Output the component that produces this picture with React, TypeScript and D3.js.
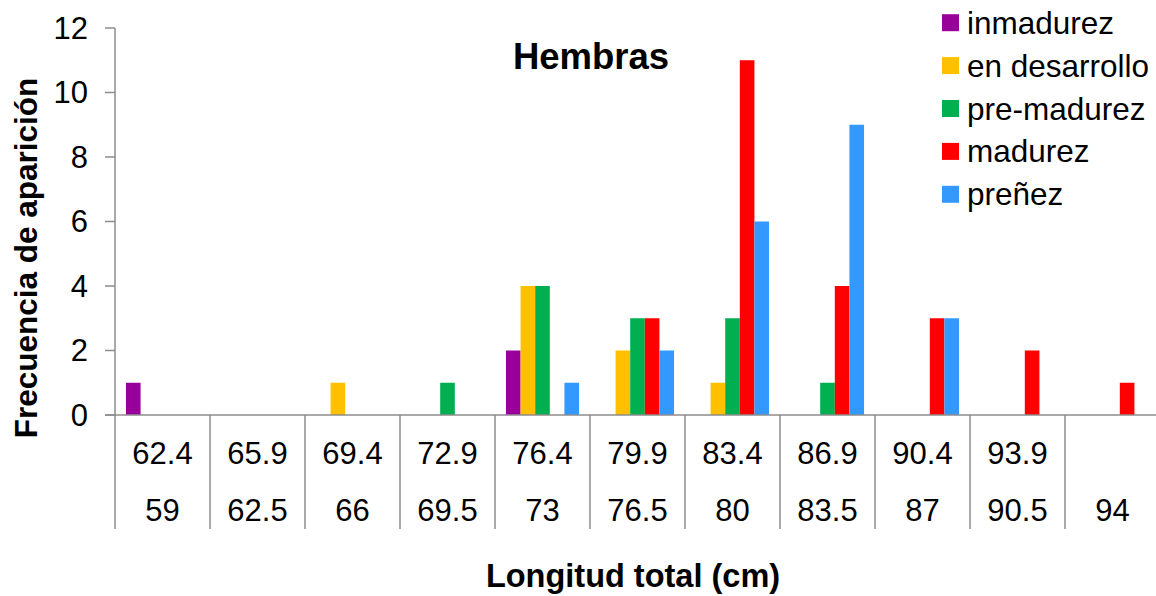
import React from "react";
import * as d3 from "d3";

const topLabels = ["62.4", "65.9", "69.4", "72.9", "76.4", "79.9", "83.4", "86.9", "90.4", "93.9", ""];
const bottomLabels = ["59", "62.5", "66", "69.5", "73", "76.5", "80", "83.5", "87", "90.5", "94"];
const seriesNames = ["inmadurez", "en desarrollo", "pre-madurez", "madurez", "preñez"];
const seriesColors = ["#990099", "#FFC000", "#00B050", "#FF0000", "#3399FF"];
const inmadurez = [1, 0, 0, 0, 2, 0, 0, 0, 0, 0, 0];
const enDesarrollo = [0, 0, 1, 0, 4, 2, 1, 0, 0, 0, 0];
const preMadurez = [0, 0, 0, 1, 4, 3, 3, 1, 0, 0, 0];
const madurez = [0, 0, 0, 0, 0, 3, 11, 4, 3, 2, 1];
const prenez = [0, 0, 0, 0, 1, 2, 6, 9, 3, 0, 0];
const yTicks = [0, 2, 4, 6, 8, 10, 12];

const seriesValues = [inmadurez, enDesarrollo, preMadurez, madurez, prenez];

const W = 1156;
const H = 596;
const FONT = "'Liberation Sans', Arial, sans-serif";
const AXIS = "#8c8c8c";

export default function App() {
  const left = 115;
  const right = 1160;
  const top = 28;
  const bottom = 415;
  const sepBottom = 529;

  const idx = d3.range(topLabels.length).map(String);
  const x0 = d3.scaleBand<string>().domain(idx).range([left, right]).paddingInner(0).paddingOuter(0);
  const x1 = d3
    .scaleBand<string>()
    .domain(seriesNames)
    .range([0, x0.bandwidth()])
    .paddingInner(0)
    .paddingOuter(0.75);
  const y = d3.scaleLinear().domain([0, 12]).range([bottom, top]);

  const bars: React.ReactNode[] = [];
  seriesValues.forEach((vals, si) => {
    vals.forEach((v, ci) => {
      if (v <= 0) return;
      const bx = (x0(String(ci)) as number) + (x1(seriesNames[si]) as number);
      bars.push(
        <rect
          key={`b-${si}-${ci}`}
          x={bx}
          y={y(v)}
          width={x1.bandwidth()}
          height={y(0) - y(v)}
          fill={seriesColors[si]}
        />
      );
    });
  });

  const boundaries = d3.range(topLabels.length + 1).map((i) =>
    i < topLabels.length ? (x0(String(i)) as number) : right
  );

  return (
    <svg width={W} height={H} style={{ position: "absolute", left: 0, top: 0, background: "#fff" }} fontFamily={FONT}>
      <rect x={0} y={0} width={W} height={H} fill="#fff" />
      {bars}
      {/* y axis */}
      <line x1={left} y1={top} x2={left} y2={bottom} stroke={AXIS} strokeWidth={1.5} />
      {yTicks.map((t) => (
        <g key={`yt-${t}`}>
          <line x1={left - 10} y1={y(t)} x2={left} y2={y(t)} stroke={AXIS} strokeWidth={1.5} />
          <text x={88} y={y(t)} textAnchor="end" dominantBaseline="central" fontSize={31} fill="#000">
            {t}
          </text>
        </g>
      ))}
      {/* x axis */}
      <line x1={left - 10} y1={bottom} x2={right} y2={bottom} stroke={AXIS} strokeWidth={1.5} />
      {boundaries.map((bx, i) => (
        <line key={`sep-${i}`} x1={bx} y1={bottom} x2={bx} y2={sepBottom} stroke={AXIS} strokeWidth={1.5} />
      ))}
      {idx.map((k, i) => {
        const cx = (x0(k) as number) + x0.bandwidth() / 2;
        return (
          <g key={`xl-${k}`}>
            <text x={cx} y={464} textAnchor="middle" fontSize={31} fill="#000">
              {topLabels[i]}
            </text>
            <text x={cx} y={521} textAnchor="middle" fontSize={31} fill="#000">
              {bottomLabels[i]}
            </text>
          </g>
        );
      })}
      {/* titles */}
      <text x={591} y={69} textAnchor="middle" fontSize={36.5} fontWeight="bold" fill="#000">
        Hembras
      </text>
      <text x={633} y={587} textAnchor="middle" fontSize={32.5} fontWeight="bold" fill="#000">
        Longitud total (cm)
      </text>
      <text
        transform={`translate(37, 258) rotate(-90)`}
        textAnchor="middle"
        fontSize={31.5}
        fontWeight="bold"
        fill="#000"
      >
        Frecuencia de aparición
      </text>
      {/* legend */}
      {seriesNames.map((n, i) => {
        const cy = 22.7 + i * 42.9;
        return (
          <g key={`lg-${n}`}>
            <rect x={942} y={cy - 8.5} width={17} height={17} fill={seriesColors[i]} />
            <text x={967} y={cy} dominantBaseline="central" fontSize={31.5} fill="#000">
              {n}
            </text>
          </g>
        );
      })}
    </svg>
  );
}
